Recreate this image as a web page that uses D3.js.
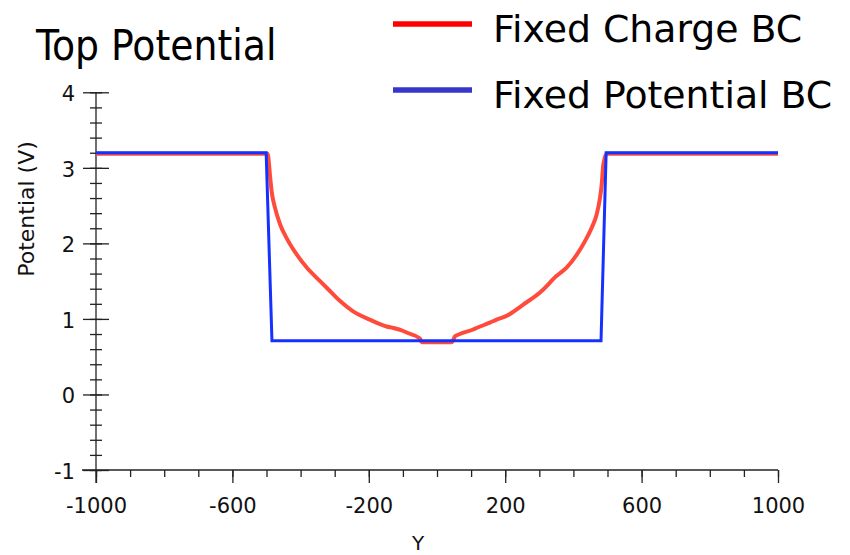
<!DOCTYPE html>
<html>
<head>
<meta charset="utf-8">
<script src="https://cdn.jsdelivr.net/npm/d3@7"></script>
<style>
  body { margin: 0; background: #fff; }
  svg { display: block; font-family: "DejaVu Sans", sans-serif; }
</style>
</head>
<body>
<div id="container"></div>
<script>
const w = 850;
const h = 555;

// Fixed Charge BC (red)
const chargeY = [-1000, -497, -495, -490, -485, -475, -460, -441, -411, -382, -343, -314, -285, -246, -197, -148, -128, -99, -89, -50, -45,
                 43, 53, 67, 106, 116, 155, 175, 204, 253, 302, 351, 380, 410, 434, 454, 468, 478, 483, 488, 498, 1000];
const chargeV = [3.185, 3.185, 3.15, 2.91, 2.69, 2.47, 2.25, 2.07, 1.85, 1.68, 1.50, 1.37, 1.24, 1.10, 0.99, 0.90, 0.88, 0.84, 0.82, 0.74, 0.69,
                 0.69, 0.77, 0.80, 0.86, 0.88, 0.95, 0.99, 1.04, 1.19, 1.35, 1.57, 1.68, 1.85, 2.03, 2.21, 2.38, 2.60, 2.78, 3.05, 3.185, 3.185];

// Fixed Potential BC (blue)
const potentialY = [-1000, -501, -484, 481, 496, 1000];
const potentialV = [3.2, 3.2, 0.71, 0.71, 3.2, 3.2];

const xMajor = [-1000, -600, -200, 200, 600, 1000];
const xMinor = d3.range(-1000, 1001, 100);
const yMajor = [-1, 0, 1, 2, 3, 4];
const yMinor = d3.range(-1, 4.001, 0.2);

const seriesNames = ["Fixed Charge BC", "Fixed Potential BC"];
const lineColors = ["#ff4b3b", "#1530ff"];
const legendColors = ["#ff0000", "#3636c8"];

const x = d3.scaleLinear().domain([-1000, 1000]).range([96, 778]);
const y = d3.scaleLinear().domain([-1, 4]).range([470, 92.3]);

const svg = d3.select("#container")
              .append("svg")
              .attr("width", w)
              .attr("height", h);

const axisColor = "#222";
const plainNum = d => String(Math.round(d));

// x axis
svg.append("g")
   .attr("transform", `translate(0,${y(-1)})`)
   .call(d3.axisBottom(x).tickValues(xMinor).tickSize(7).tickSizeOuter(0).tickFormat(""));
const xAxis = svg.append("g")
                 .attr("transform", `translate(0,${y(-1)})`)
                 .call(d3.axisBottom(x).tickValues(xMajor).tickSize(13).tickSizeOuter(0).tickPadding(15).tickFormat(plainNum));

// y axis
const yAxisMinor = svg.append("g")
                      .attr("transform", `translate(${x(-1000)},0)`)
                      .call(d3.axisLeft(y).tickValues(yMinor).tickSize(6).tickSizeOuter(0).tickFormat(""));
yAxisMinor.selectAll(".tick line").attr("x1", 6);
const yAxis = svg.append("g")
                 .attr("transform", `translate(${x(-1000)},0)`)
                 .call(d3.axisLeft(y).tickValues(yMajor).tickSize(13).tickSizeOuter(0).tickPadding(8).tickFormat(plainNum));
yAxis.selectAll(".tick line").attr("x1", 13);

svg.selectAll(".domain").remove();
svg.selectAll(".tick line").attr("stroke", axisColor).attr("stroke-width", 1.3);
svg.selectAll(".tick text")
   .attr("fill", "#111")
   .style("font-size", "21px")
   .style("font-family", "DejaVu Sans, sans-serif");
yAxis.selectAll(".tick text").attr("dy", "0.4em");

// axis lines, extended past the corner like the original
svg.append("line")
   .attr("x1", x(-1000) - 14).attr("x2", x(1000))
   .attr("y1", y(-1)).attr("y2", y(-1))
   .attr("stroke", axisColor).attr("stroke-width", 1.3);
svg.append("line")
   .attr("x1", x(-1000)).attr("x2", x(-1000))
   .attr("y1", y(4)).attr("y2", y(-1) + 13)
   .attr("stroke", axisColor).attr("stroke-width", 1.3);

// axis titles
svg.append("text")
   .attr("x", 418)
   .attr("y", 550)
   .attr("text-anchor", "middle")
   .style("font-size", "20px")
   .attr("fill", "#111")
   .text("Y");

svg.append("text")
   .attr("transform", "translate(34,209) rotate(-90)")
   .attr("text-anchor", "middle")
   .style("font-size", "22px")
   .attr("fill", "#111")
   .text("Potential (V)");

// title
svg.append("text")
   .attr("x", 36)
   .attr("y", 60)
   .style("font-family", "DejaVu Sans Condensed, DejaVu Sans, sans-serif")
   .style("font-size", "42px")
   .attr("fill", "#000")
   .text("Top Potential");

// curves
const line = d3.line().x(d => x(d[0])).y(d => y(d[1]));

const charge = chargeY.map((d, i) => [d, chargeV[i]]);
const potential = potentialY.map((d, i) => [d, potentialV[i]]);

svg.append("path")
   .datum(charge)
   .attr("d", line.curve(d3.curveMonotoneX))
   .attr("fill", "none")
   .attr("stroke", lineColors[0])
   .attr("stroke-width", 4)
   .attr("stroke-linejoin", "round");

svg.append("path")
   .datum(potential)
   .attr("d", line.curve(d3.curveLinear))
   .attr("fill", "none")
   .attr("stroke", lineColors[1])
   .attr("stroke-width", 3);

// legend
const legend = svg.selectAll(".legend-item")
                  .data(seriesNames)
                  .enter()
                  .append("g")
                  .attr("class", "legend-item")
                  .attr("transform", (d, i) => `translate(0,${i * 66})`);

legend.append("line")
      .attr("x1", 393).attr("x2", 472)
      .attr("y1", 24).attr("y2", 24)
      .attr("stroke", (d, i) => legendColors[i])
      .attr("stroke-width", 5.5);

legend.append("text")
      .attr("x", 493)
      .attr("y", 41.5)
      .style("font-size", "37.8px")
      .attr("fill", "#000")
      .text(d => d);
</script>
</body>
</html>
